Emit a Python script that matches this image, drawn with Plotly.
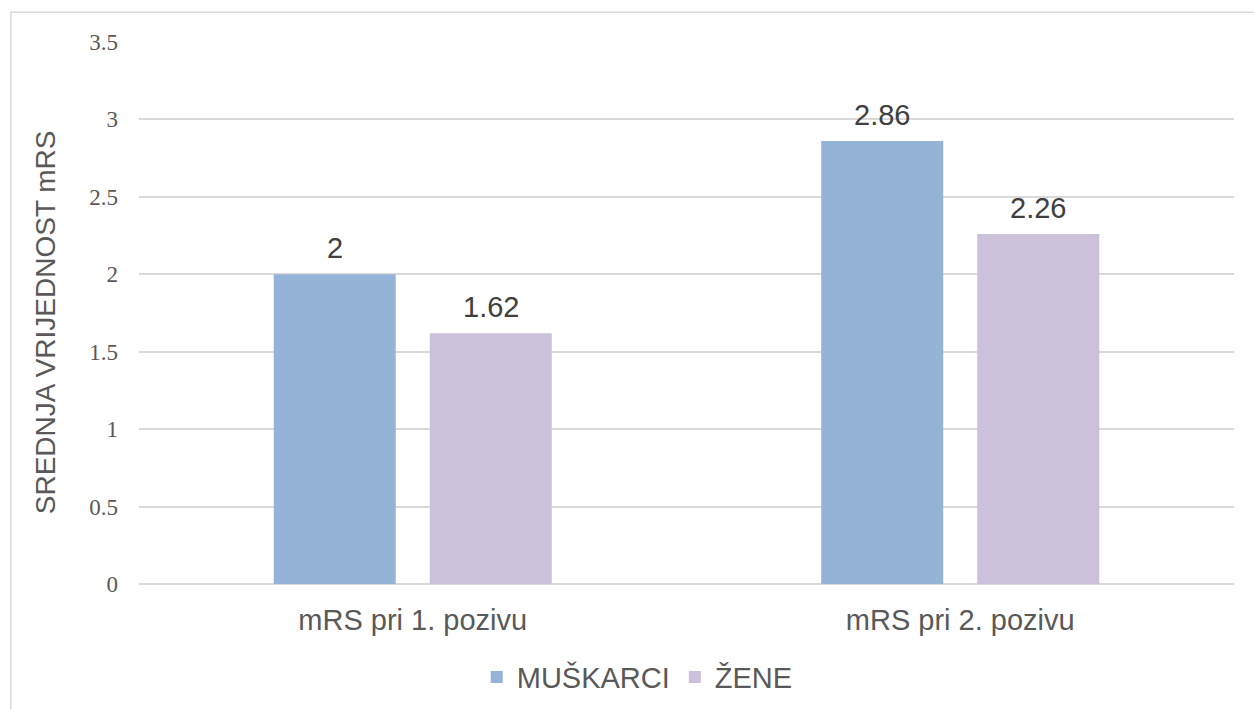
import plotly.graph_objects as go

categories = ["mRS pri 1. pozivu", "mRS pri 2. pozivu"]
muskarci = [2, 2.86]
zene = [1.62, 2.26]
series_names = ["MUŠKARCI", "ŽENE"]
y_ticks = [0, 0.5, 1, 1.5, 2, 2.5, 3, 3.5]
y_tick_labels = ["0", "0.5", "1", "1.5", "2", "2.5", "3", "3.5"]
y_title = "SREDNJA VRIJEDNOST mRS"

colors = ["#95B3D7", "#CCC1DA"]
bar_offsets_px = [-78, 78]

fig = go.Figure()
for name, vals, col in zip(series_names, [muskarci, zene], colors):
    fig.add_trace(go.Bar(
        x=categories, y=vals, name=name,
        marker=dict(color=col, line=dict(width=0)),
        hoverinfo="x+y+name",
    ))

# data labels placed above each bar
for vals, dx in zip([muskarci, zene], bar_offsets_px):
    for c, v in zip(categories, vals):
        fig.add_annotation(x=c, y=v, text=f"{v:g}", showarrow=False,
                           xshift=dx, yshift=26, yanchor="middle",
                           font=dict(family="Liberation Sans, Arial", size=29, color="#404040"))

# y-axis title
fig.add_annotation(xref="paper", yref="paper", x=-0.0858, y=0.483, text=y_title,
                   textangle=-90, showarrow=False, xanchor="center", yanchor="middle",
                   font=dict(family="Liberation Sans, Arial", size=28, color="#595959"))

fig.update_layout(
    width=1254, height=709,
    margin=dict(l=139, r=20, t=42, b=125, autoexpand=False),
    paper_bgcolor="white", plot_bgcolor="white",
    barmode="group", bargap=0.43, bargroupgap=0.218,
    showlegend=True,
    legend=dict(orientation="h", x=0.455, xanchor="center", y=-0.172, yanchor="middle",
                font=dict(family="Liberation Sans, Arial", size=29, color="#595959"),
                itemwidth=30),
    xaxis=dict(
        tickfont=dict(family="Liberation Sans, Arial", size=29, color="#595959"),
        showgrid=False, showline=False, ticks="", ticklabelstandoff=16,
    ),
    yaxis=dict(
        range=[0, 3.5], tickvals=y_ticks, ticktext=y_tick_labels,
        tickfont=dict(family="Liberation Serif, Times New Roman", size=23, color="#595959"),
        showgrid=True, gridcolor="#D9D9D9", gridwidth=1.5,
        zeroline=True, zerolinecolor="#D9D9D9", zerolinewidth=1.5,
        showline=False, ticks="", ticklabelstandoff=20,
    ),
    font=dict(family="Liberation Sans, Arial"),
)

# outer chart-area border (as in the original export)
fig.add_shape(type="rect", xref="paper", yref="paper",
              x0=-0.117, x1=1.2, y0=-0.3, y1=1.055,
              line=dict(color="#D9D9D9", width=1.5), fillcolor="rgba(0,0,0,0)", layer="below")

fig.write_html("out.html", config={"displayModeBar": False},
               post_script="document.body.style.margin='0';")
